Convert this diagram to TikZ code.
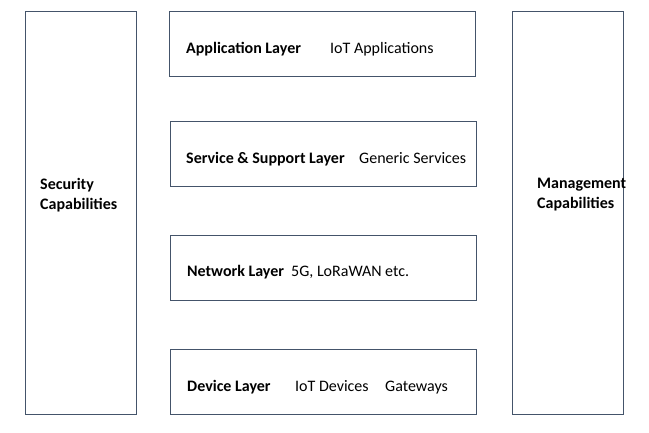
\documentclass[tikz,border=0pt]{standalone}
\usepackage{fontspec}
\setmainfont{Carlito}
\usepackage{xcolor}
\usetikzlibrary{positioning}
\definecolor{edgegray}{HTML}{44546A}

\begin{document}
\begin{tikzpicture}[
  x=1pt, y=-1pt,
  box/.style={draw=edgegray, line width=0.9pt, inner sep=0pt},
  layer/.style={box, minimum width=306pt, minimum height=65pt},
  side/.style={box, minimum width=111pt, minimum height=403pt},
  lbl/.style={font=\fontsize{16}{20}\selectfont\bfseries, anchor=base west, inner sep=0pt, align=left},
  txt/.style={font=\fontsize{16}{20}\selectfont, anchor=base west, inner sep=0pt}
]
  \useasboundingbox (0,0) rectangle (649,432);

  % side columns
  \node[side] (sec) at (80.5,212.5) {};
  \node[side] (mgmt) at (568,212.5) {};
  \node[lbl, anchor=west] (secl) at (40,195) {Security\\Capabilities};
  \node[lbl, anchor=west] (mgmtl) at (537,195) {Management\\Capabilities};

  % layers
  \node[layer] (app) at (322,43.5) {};
  \node[layer] (svc) at (323,153.5) {};
  \node[layer] (net) at (323,267.5) {};
  \node[layer] (dev) at (323,381.5) {};

  \node[lbl] (appl) at (186,53.5) {Application Layer};
  \node[txt] (appt) at (330,53.5) {IoT Applications};
  \node[lbl] (svcl) at (186,163.5) {Service \& Support Layer};
  \node[txt] (svct) at (359,163.5) {Generic Services};
  \node[lbl] (netl) at (187,276.5) {Network Layer};
  \node[txt] (nett) at (291,276.5) {5G, LoRaWAN etc.};
  \node[lbl] (devl) at (187,391.5) {Device Layer};
  \node[txt] (devt) at (295,391.5) {IoT Devices};
  \node[txt] (devg) at (385,391.5) {Gateways};
\end{tikzpicture}
\end{document}
